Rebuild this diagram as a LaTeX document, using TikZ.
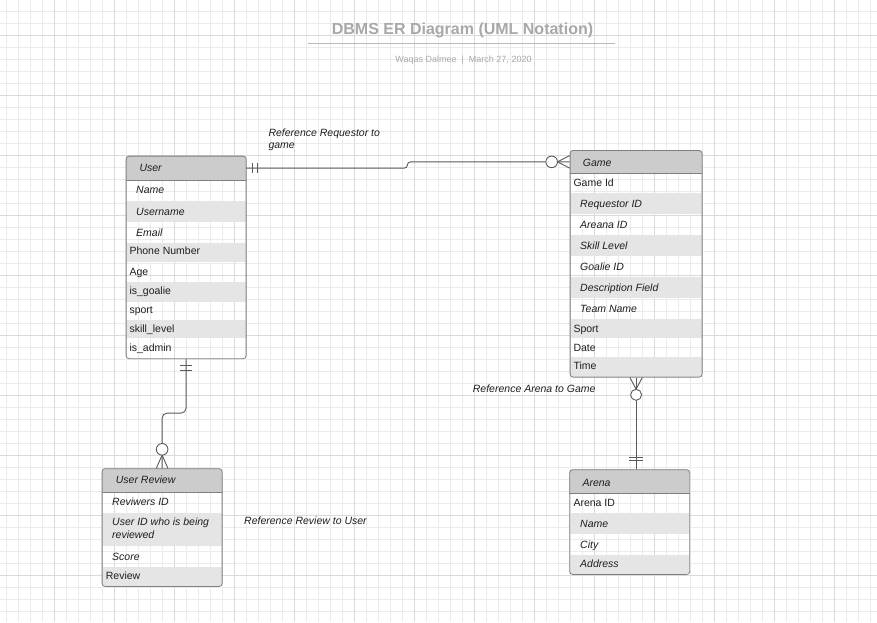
\documentclass[tikz,border=0pt]{standalone}
\usepackage{fontspec}
\setmainfont{Liberation Sans}
\usetikzlibrary{calc}
\definecolor{gridminor}{HTML}{EBEBEB}
\definecolor{gridmajor}{HTML}{DADADA}
\definecolor{hdrfill}{HTML}{CCCCCC}
\definecolor{rowshade}{HTML}{E5E5E5}
\definecolor{tblborder}{HTML}{7F7F7F}
\definecolor{connclr}{HTML}{5A5A5A}
\definecolor{titlegray}{HTML}{A8A8A8}
\definecolor{txtclr}{HTML}{1E1E1E}
\begin{document}
\begin{tikzpicture}[x=1pt,y=-1pt,
  txt/.style={anchor=base west, inner sep=0pt, text=txtclr, font=\fontsize{10.5}{12.6}\selectfont},
  ittxt/.style={txt, font=\fontsize{10.5}{12.6}\selectfont\itshape},
  tblbox/.style={draw=tblborder, line width=0.8pt, rounded corners=3pt, inner sep=0pt, anchor=north west},
  hdrbox/.style={inner sep=0pt, anchor=north west},
  conn/.style={draw=connclr, line width=0.9pt},
  gmin/.style={draw=gridminor, line width=0.9pt},
  gmaj/.style={draw=gridmajor, line width=0.9pt}]
\useasboundingbox (0,0) rectangle (877,622);
\fill[white] (0,0) rectangle (877,622);
% grid
\foreach \i in {0,...,72} \draw[gmin] ({6.3+12*\i},0) -- ({6.3+12*\i},622);
\foreach \j in {0,...,50} \draw[gmin] (0,{11+12*\j}) -- (877,{11+12*\j});
\foreach \i in {0,...,13} \draw[gmaj] ({54.3+60*\i},0) -- ({54.3+60*\i},622);
\foreach \j in {0,...,9} \draw[gmaj] (0,{35+60*\j}) -- (877,{35+60*\j});

% title
\node[anchor=base, inner sep=0pt, text=titlegray, font=\fontsize{16}{19}\selectfont\bfseries] (title) at (462.5,34.5) {DBMS ER Diagram (UML Notation)};
\draw[draw=titlegray!80, line width=1.4pt] (307.7,43.7) -- (615,43.7);
\node[anchor=base, inner sep=0pt, text=titlegray, font=\fontsize{9}{11}\selectfont] (subtitle) at (463.5,62) {Waqas Dalmee\ \ |\ \ March 27, 2020};

% ---------- User table
\begin{scope}
\clip[rounded corners=3pt] (125.7,155.7) rectangle (245.7,358.3);
\fill[hdrfill] (125.7,155.7) rectangle (245.7,180);
\fill[rowshade] (125.7,201) rectangle (245.7,221.7);
\fill[rowshade] (125.7,242.7) rectangle (245.7,261.7);
\fill[rowshade] (125.7,281.7) rectangle (245.7,301.7);
\fill[rowshade] (125.7,320) rectangle (245.7,338.3);
\end{scope}
\node[hdrbox, minimum width=120pt, minimum height=24.3pt] (userh) at (125.7,155.7) {};
\draw[tblborder, line width=0.6pt] (userh.south west) -- (userh.south east);
\node[tblbox, minimum width=120pt, minimum height=202.6pt] (user) at (125.7,155.7) {};
\node[ittxt] (u0) at (139.3,171.5) {User};
\node[ittxt] (u1) at (136,193.8) {Name};
\node[ittxt] (u2) at (136,215.5) {Username};
\node[ittxt] (u3) at (136,236.1) {Email};
\node[txt] (u4) at (129.3,254.8) {Phone Number};
\node[txt] (u5) at (129.3,275.5) {Age};
\node[txt] (u6) at (129.3,294.5) {is\_goalie};
\node[txt] (u7) at (129.3,313.1) {sport};
\node[txt] (u8) at (129.3,332.1) {skill\_level};
\node[txt] (u9) at (129.3,351.5) {is\_admin};

% ---------- Game table
\begin{scope}
\clip[rounded corners=3pt] (569.7,150) rectangle (701.7,376.7);
\fill[hdrfill] (569.7,150) rectangle (701.7,173.3);
\fill[rowshade] (569.7,192.7) rectangle (701.7,214);
\fill[rowshade] (569.7,235) rectangle (701.7,256);
\fill[rowshade] (569.7,277.3) rectangle (701.7,298.3);
\fill[rowshade] (569.7,319.3) rectangle (701.7,338.3);
\fill[rowshade] (569.7,357.3) rectangle (701.7,376.7);
\end{scope}
\node[hdrbox, minimum width=132pt, minimum height=23.3pt] (gameh) at (569.7,150) {};
\draw[tblborder, line width=0.6pt] (gameh.south west) -- (gameh.south east);
\node[tblbox, minimum width=132pt, minimum height=226.7pt] (game) at (569.7,150) {};
\node[ittxt] (g0) at (582.7,166.1) {Game};
\node[txt] (g1) at (573.3,186.1) {Game Id};
\node[ittxt] (g2) at (580,207.8) {Requestor ID};
\node[ittxt] (g3) at (580,228.8) {Areana ID};
\node[ittxt] (g4) at (580,249.8) {Skill Level};
\node[ittxt] (g5) at (580,270.5) {Goalie ID};
\node[ittxt] (g6) at (580,291.1) {Description Field};
\node[ittxt] (g7) at (580,312.8) {Team Name};
\node[txt] (g8) at (573.3,332.1) {Sport};
\node[txt] (g9) at (573.3,351.1) {Date};
\node[txt] (g10) at (573.3,369.8) {Time};

% ---------- User Review table
\begin{scope}
\clip[rounded corners=3pt] (101.7,468.3) rectangle (221.7,586);
\fill[hdrfill] (101.7,468.3) rectangle (221.7,491.7);
\fill[rowshade] (101.7,512.7) rectangle (221.7,546);
\fill[rowshade] (101.7,567.3) rectangle (221.7,586);
\end{scope}
\node[hdrbox, minimum width=120pt, minimum height=23.4pt] (reviewh) at (101.7,468.3) {};
\draw[tblborder, line width=0.6pt] (reviewh.south west) -- (reviewh.south east);
\node[tblbox, minimum width=120pt, minimum height=117.7pt] (review) at (101.7,468.3) {};
\node[ittxt] (r0) at (115.7,483.8) {User Review};
\node[ittxt] (r1) at (112,505.5) {Reviwers ID};
\node[ittxt] (r2) at (112,525.5) {User ID who is being};
\node[ittxt] (r2b) at (112,538.8) {reviewed};
\node[ittxt] (r3) at (112,560.5) {Score};
\node[txt] (r4) at (105.7,579.5) {Review};

% ---------- Arena table
\begin{scope}
\clip[rounded corners=3pt] (569.3,469.3) rectangle (689.3,574);
\fill[hdrfill] (569.3,469.3) rectangle (689.3,493.3);
\fill[rowshade] (569.3,513.3) rectangle (689.3,534);
\fill[rowshade] (569.3,555) rectangle (689.3,574);
\end{scope}
\node[hdrbox, minimum width=120pt, minimum height=24pt] (arenah) at (569.3,469.3) {};
\draw[tblborder, line width=0.6pt] (arenah.south west) -- (arenah.south east);
\node[tblbox, minimum width=120pt, minimum height=104.7pt] (arena) at (569.3,469.3) {};
\node[ittxt] (a0) at (582.3,486.1) {Arena};
\node[txt] (a1) at (573.3,506.1) {Arena ID};
\node[ittxt] (a2) at (580,527.8) {Name};
\node[ittxt] (a3) at (580,548.8) {City};
\node[ittxt] (a4) at (580,567.8) {Address};

% ---------- labels
\node[ittxt] (l1) at (268.3,136.1) {Reference Requestor to};
\node[ittxt] (l1b) at (268.3,148.8) {game};
\node[ittxt] (l2) at (472.7,392.1) {Reference Arena to Game};
\node[ittxt] (l3) at (244,524.5) {Reference Review to User};

% ---------- connector User -- Game
\draw[conn, rounded corners=3pt] (userh.east) -- ++(161.3,0) |- (gameh.west);
\draw[conn] ($(userh.east)+(6.6,-5.3)$) -- ($(userh.east)+(6.6,5.3)$);
\draw[conn] ($(userh.east)+(11.6,-5.3)$) -- ($(userh.east)+(11.6,5.3)$);
\draw[conn] ($(gameh.west)+(-12.2,0)$) -- ($(gameh.west)+(0,-6.3)$);
\draw[conn] ($(gameh.west)+(-12.2,0)$) -- ($(gameh.west)+(0,6.3)$);
\draw[conn, fill=white] ($(gameh.west)+(-18,0)$) circle (5.8);

% ---------- connector Game -- Arena
\coordinate (arenatop) at (game.south |- arena.north);
\draw[conn] (game.south) -- (arenatop);
\draw[conn] ($(game.south)+(-6.2,0)$) -- ($(game.south)+(0,11.6)$);
\draw[conn] ($(game.south)+(6.2,0)$) -- ($(game.south)+(0,11.6)$);
\draw[conn, fill=white] ($(game.south)+(0,17.3)$) circle (5.5);
\draw[conn] ($(arenatop)+(-6.7,-12)$) -- ($(arenatop)+(6.7,-12)$);
\draw[conn] ($(arenatop)+(-6.7,-8.6)$) -- ($(arenatop)+(6.7,-8.6)$);

% ---------- connector User -- User Review
\draw[conn, rounded corners=5pt] (user.south) -- ++(0,54) -| (review.north);
\draw[conn] ($(user.south)+(-5.8,6)$) -- ($(user.south)+(5.8,6)$);
\draw[conn] ($(user.south)+(-5.8,11.7)$) -- ($(user.south)+(5.8,11.7)$);
\draw[conn] ($(review.north)+(-5.8,0)$) -- ($(review.north)+(0,-13.2)$);
\draw[conn] ($(review.north)+(5.8,0)$) -- ($(review.north)+(0,-13.2)$);
\draw[conn, fill=white] ($(review.north)+(0,-19)$) circle (5.8);
\end{tikzpicture}
\end{document}
